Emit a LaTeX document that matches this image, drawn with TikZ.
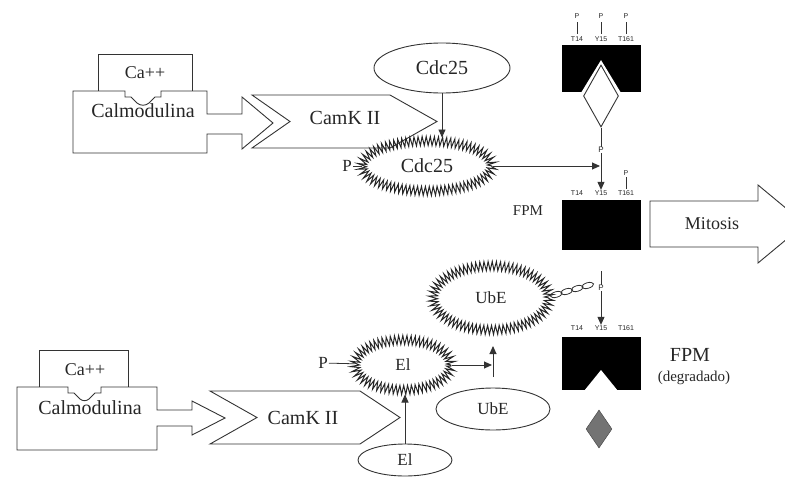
\documentclass[tikz,border=0pt]{standalone}
\usepackage{fontspec}
\setmainfont{Liberation Serif}
\setsansfont{Liberation Sans}
\usetikzlibrary{arrows.meta,shapes.geometric,decorations.pathmorphing}

\begin{document}
\begin{tikzpicture}[x=1pt,y=-1pt]
\tikzset{
  outline/.style={draw=black!80,line width=0.9pt},
  bigtext/.style={font=\fontsize{20}{22}\selectfont,text=black!85,inner sep=1pt},
  midtext/.style={font=\fontsize{17}{19}\selectfont,text=black!85,inner sep=1pt},
  sitetext/.style={font=\sffamily\fontsize{7}{8}\selectfont,text=black!85,inner sep=0.5pt},
  protein/.style={ellipse,outline,inner sep=0pt},
  spiky/.style={ellipse,draw=black!85,line width=1pt,inner sep=0pt,decorate,
    decoration={zigzag,segment length=4pt,amplitude=4.5pt}},
  blackbox/.style={rectangle,fill=black,inner sep=0pt},
  directed/.style={-{Triangle[length=8pt,width=7pt]},line width=0.9pt,draw=black!80},
  bond/.style={line width=0.8pt,draw=black!80}
}
\useasboundingbox (0,0) rectangle (785,477);
\clip (0,0) rectangle (785,477);

% upper pathway
\draw[outline] (98,91) -- (98,54) -- (192,54) -- (192,91);
\draw[outline] (73,91) -- (125,91) -- (125,97) -- (131,97) -- (137,103) to[bend right=40] (149,103)
  -- (155,97) -- (161,97) -- (161,91) -- (207,91) -- (207,114) -- (242,114) -- (242,97)
  -- (273,123) -- (242,149) -- (242,134) -- (207,134) -- (207,153) -- (73,153) -- cycle;
\node[bigtext,font=\fontsize{18}{20}\selectfont] (n_ca1) at (145,73) {Ca++};
\node[bigtext] (n_cal1) at (143,111) {Calmodulina};
\draw[outline] (252,95) -- (390,95) -- (437,121.5) -- (390,148) -- (252,148) -- (290,121.5) -- cycle;
\node[bigtext] (n_camk1) at (345,118) {CamK II};
\node[protein,minimum width=136,minimum height=50,bigtext] (n_cdcE) at (442,68) {Cdc25};
\node[spiky,minimum width=130,minimum height=50] (n_cdcS) at (427,166) {};
\node[bigtext] at (n_cdcS) {Cdc25};
\node[midtext] (n_pA) at (347,166) {P};
\draw[bond] (n_pA) -- (n_cdcS);
\draw[directed,shorten >=3pt] (n_cdcE.south) -- (n_cdcE.south |- n_cdcS.north);

% FPM before activation
\node[blackbox,minimum width=79,minimum height=47] (n_boxA) at (601,68.5) {};
\node[diamond,fill=white,inner sep=0pt,minimum width=44,minimum height=72] at (601,96) {};
\node[diamond,outline,fill=white,inner sep=0pt,minimum width=35,minimum height=62] (n_dia) at (601,96) {};
\node[sitetext] (n_tA1) at (577,39) {T14};
\node[sitetext] (n_yA) at (601,39) {Y15};
\node[sitetext] (n_tA2) at (626,39) {T161};
\node[sitetext] (n_ptA1) at (577,16) {P};
\node[sitetext] (n_pyA) at (601,16) {P};
\node[sitetext] (n_ptA2) at (626,16) {P};
\draw[bond,shorten <=3pt,shorten >=2pt] (n_ptA1) -- (n_tA1);
\draw[bond,shorten <=3pt,shorten >=2pt] (n_pyA) -- (n_yA);
\draw[bond,shorten <=3pt,shorten >=2pt] (n_ptA2) -- (n_tA2);

% active FPM
\node[blackbox,minimum width=79,minimum height=50] (n_boxB) at (601,225) {};
\node[sitetext] (n_tB1) at (577,193) {T14};
\node[sitetext] (n_yB) at (601,193) {Y15};
\node[sitetext] (n_tB2) at (626,193) {T161};
\node[sitetext] (n_ptB2) at (626,173) {P};
\draw[bond,shorten <=1pt,shorten >=1pt] (n_ptB2) -- (n_tB2);
\node[sitetext,font=\sffamily\fontsize{8}{9}\selectfont] (n_pB) at (601,150) {P};
\draw[bond,shorten <=1pt] (n_dia.south) -- (n_pB);
\draw[directed] (n_pB) -- (n_yB.north);
\draw[directed,shorten >=1pt] (n_cdcS.east) -- (n_cdcS.east -| n_yB.north);
\node[bigtext,font=\fontsize{15}{17}\selectfont] (n_fpmB) at (528,211) {FPM};
\draw[outline] (650,201) -- (758,201) -- (758,185) -- (805,224) -- (758,263) -- (758,247) -- (650,247) -- cycle;
\node[bigtext,font=\fontsize{18}{20}\selectfont] (n_mit) at (712,224) {Mitosis};

% lower pathway
\draw[outline] (39,387) -- (39,350) -- (128,350) -- (128,387);
\draw[outline] (17,387) -- (68,387) -- (68,393) -- (74,393) -- (80,399) to[bend right=40] (89,399)
  -- (95,393) -- (101,393) -- (101,387) -- (157,387) -- (157,410) -- (192,410) -- (192,401)
  -- (225,418) -- (192,435) -- (192,426) -- (157,426) -- (157,450) -- (17,450) -- cycle;
\node[bigtext,font=\fontsize{18}{20}\selectfont] (n_ca2) at (85,370) {Ca++};
\node[bigtext] (n_cal2) at (90,408) {Calmodulina};
\draw[outline] (210,391) -- (360,391) -- (400,417.5) -- (360,444) -- (210,444) -- (257,417.5) -- cycle;
\node[bigtext] (n_camk2) at (303,418) {CamK II};
\node[spiky,minimum width=96,minimum height=50] (n_elS) at (403,365) {};
\node[midtext] at (n_elS) {El};
\node[midtext] (n_pD) at (323,363) {P};
\draw[bond] (n_pD) -- (n_elS);
\node[protein,minimum width=94,minimum height=32,midtext] (n_elB) at (405,460) {El};
\draw[directed,shorten >=4pt] (n_elB.north) -- (n_elB.north |- n_elS.south);
\coordinate (n_kD1) at (493,377);
\coordinate (n_kD2) at (493,346);
\draw[directed] (n_kD1) -- (n_kD2);
\draw[directed,shorten >=1pt] (n_elS.east) -- (n_elS.east -| n_kD1);
\node[protein,minimum width=114,minimum height=42,midtext] (n_ubB) at (493,409) {UbE};
\node[spiky,minimum width=116,minimum height=64] (n_ubS) at (491,298) {};
\node[midtext] at (n_ubS) {UbE};
% ubiquitin chain
\foreach \cx/\cy in {556.25/294.5, 566.75/291.5, 577.25/288.5, 587.75/285.5}
  \draw[bond,rotate around={16:(\cx,\cy)}] (\cx,\cy) ellipse [x radius=6pt,y radius=2.8pt];

% degraded FPM
\node[blackbox,minimum width=79,minimum height=53] (n_boxC) at (601,363.5) {};
\fill[white] (584,391) -- (601,370) -- (618,391) -- cycle;
\node[sitetext] (n_tC1) at (577,328) {T14};
\node[sitetext] (n_yC) at (601,328) {Y15};
\node[sitetext] (n_tC2) at (626,328) {T161};
\coordinate (n_kC) at (601,271);
\node[sitetext,font=\sffamily\fontsize{8}{9}\selectfont] (n_pC) at (601,288) {P};
\draw[bond] (n_kC) -- (n_pC);
\draw[directed] (n_pC) -- (n_yC.north);
\node[bigtext] (n_fpmC) at (690,355) {FPM};
\node[bigtext,font=\fontsize{15}{17}\selectfont] (n_degC) at (694,378) {(degradado)};
\node[diamond,draw=black!75,fill=black!55,inner sep=0pt,minimum width=26,minimum height=38] (n_frag) at (599,429) {};
\end{tikzpicture}
\end{document}
